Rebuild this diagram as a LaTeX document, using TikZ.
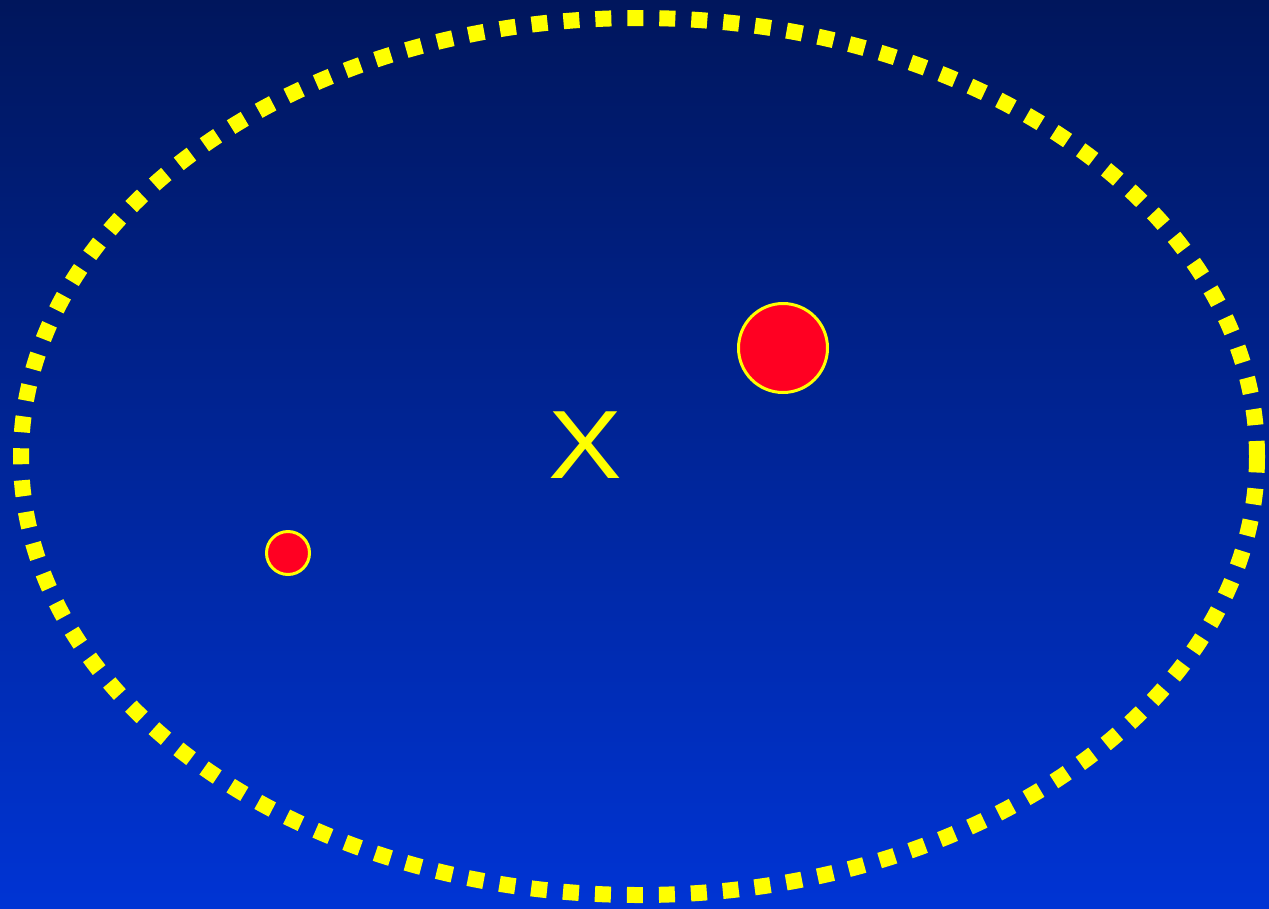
\documentclass[tikz,border=0pt]{standalone}
\usepackage{fontspec}
\setmainfont{Liberation Sans}
\definecolor{bgtop}{RGB}{0,22,92}
\definecolor{bgbot}{RGB}{0,52,212}
\definecolor{ylw}{RGB}{255,255,0}
\definecolor{redfill}{RGB}{255,0,34}
\begin{document}
\begin{tikzpicture}[x=1pt,y=-1pt,
  dot/.style={circle,draw=ylw,fill=redfill,line width=3pt,inner sep=0pt},
  ring/.style={draw=ylw,line width=16pt,dash pattern=on 16pt off 16pt},
  mark label/.style={text=ylw,font=\fontsize{97}{97}\selectfont,inner sep=0pt,xscale=1.14}]
  \useasboundingbox (0,0) rectangle (1269,908);
  \shade[top color=bgtop,bottom color=bgbot] (0,0) rectangle (1269,908);
  \draw[ring] (639,456.5) ellipse [x radius=618,y radius=438.5];
  \node[dot,minimum size=89pt] (big) at (783,348) {};
  \node[dot,minimum size=43pt] (small) at (288,553) {};
  \node[mark label] (x) at (585,445.5) {X};
\end{tikzpicture}
\end{document}
